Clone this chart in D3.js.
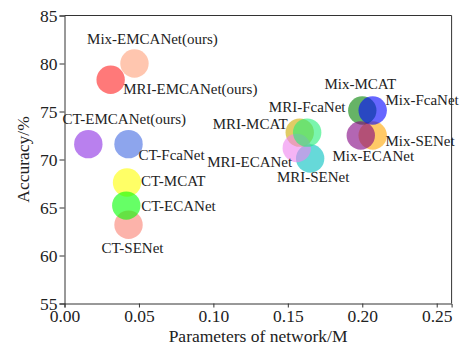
<!DOCTYPE html>
<html>
<head>
<meta charset="utf-8">
<script src="https://cdn.jsdelivr.net/npm/d3@7"></script>
<style>
  html, body { margin: 0; padding: 0; background: #fff; }
  svg { display: block; }
  svg text { font-family: "Liberation Serif", Tinos, "Times New Roman", Times, "DejaVu Serif", serif !important; fill: #222; }
</style>
</head>
<body>
<svg id="chart" width="460" height="346"></svg>
<script>
// ---- data (draw order) ----
const models = [
  "Mix-EMCANet(ours)", "MRI-EMCANet(ours)", "CT-EMCANet(ours)",
  "CT-SENet", "CT-MCAT", "CT-ECANet", "CT-FcaNet",
  "MRI-SENet", "MRI-MCAT", "MRI-ECANet", "MRI-FcaNet",
  "Mix-SENet", "Mix-MCAT", "Mix-ECANet", "Mix-FcaNet"
];
const params = [
  0.047, 0.031, 0.016,
  0.043, 0.042, 0.0415, 0.043,
  0.165, 0.158, 0.156, 0.163,
  0.207, 0.200, 0.199, 0.207
];
const accuracy = [
  80.0, 78.3, 71.6,
  63.2, 67.6, 65.2, 71.6,
  70.1, 72.8, 71.2, 72.8,
  72.5, 75.1, 72.5, 75.1
];
const xTicks = [0, 0.05, 0.10, 0.15, 0.20, 0.25];
const yTicks = [55, 60, 65, 70, 75, 80, 85];
const xTitle = "Parameters of network/M";
const yTitle = "Accuracy/%";

// ---- styles ----
const colors = [
  "#FFA07A", "#FF2020", "#8A2BE2",
  "#FA8072", "#FFFF00", "#00FF00", "#4169E1",
  "#00BFBF", "#CCAA00", "#EE82EE", "#22EE77",
  "#FFA500", "#008000", "#800080", "#0000FF"
];
// label placement relative to bubble centre (px)
const labelLayout = [
  {a: "middle", dx: 18, dy: -20}, {a: "start", dx: 12.6, dy: 14}, {a: "middle", dx: 36, dy: -20},
  {a: "middle", dx: 4, dy: 28}, {a: "start", dx: 14, dy: 3}, {a: "start", dx: 15, dy: 5}, {a: "start", dx: 10, dy: 16},
  {a: "middle", dx: 3, dy: 23}, {a: "end", dx: -12, dy: -4}, {a: "end", dx: -4.6, dy: 19.5}, {a: "middle", dx: 0, dy: -20.5},
  {a: "start", dx: 12.7, dy: 10}, {a: "middle", dx: -2, dy: -22}, {a: "middle", dx: 12.6, dy: 25.7}, {a: "start", dx: 12.7, dy: -5.7}
];

const FONT = '"Liberation Serif", Tinos, "Times New Roman", Times, "DejaVu Serif", serif';
const svg = d3.select("#chart");
const x = d3.scaleLinear().domain([0, 0.26]).range([64.5, 451.6]);
const y = d3.scaleLinear().domain([55, 85]).range([303.5, 15.5]);

const tickFont = "17.5px";

// axes
const gx = svg.append("g").attr("transform", `translate(0,${y(55)})`)
  .call(d3.axisBottom(x).tickValues(xTicks).tickFormat(d3.format(".2f")).tickSizeOuter(0).tickSize(4).tickPadding(2));
const gy = svg.append("g").attr("transform", `translate(${x(0)},0)`)
  .call(d3.axisLeft(y).tickValues(yTicks).tickFormat(d3.format("d")).tickSizeOuter(0).tickSize(5).tickPadding(2));
[gx, gy].forEach(g => {
  g.attr("font-family", FONT);
  g.selectAll("text").style("font-size", tickFont).attr("fill", "#222");
  g.selectAll("line, path").attr("stroke", "#333");
});
// frame top & right
svg.append("line").attr("x1", x(0)).attr("x2", x(0.26)).attr("y1", y(85)).attr("y2", y(85)).attr("stroke", "#333");
svg.append("line").attr("x1", x(0.26)).attr("x2", x(0.26)).attr("y1", y(85)).attr("y2", y(55)).attr("stroke", "#333");

// bubbles
const idx = d3.range(models.length);
svg.append("g").selectAll("circle").data(idx).join("circle")
  .attr("cx", i => x(params[i])).attr("cy", i => y(accuracy[i]))
  .attr("r", 14.2)
  .attr("fill", i => colors[i]).attr("fill-opacity", 0.6);

// labels
svg.append("g").attr("font-family", FONT).selectAll("text").data(idx).join("text")
  .attr("x", i => x(params[i]) + labelLayout[i].dx)
  .attr("y", i => y(accuracy[i]) + labelLayout[i].dy)
  .attr("text-anchor", i => labelLayout[i].a)
  .style("font-size", "15px")
  .text(i => models[i]);

// titles
svg.append("text").attr("x", (x(0) + x(0.26)) / 2).attr("y", 341.5)
  .attr("text-anchor", "middle").style("font-size", "17.5px").text(xTitle);
svg.append("text").attr("transform", `translate(29,${(y(55) + y(85)) / 2}) rotate(-90)`)
  .attr("text-anchor", "middle").style("font-size", "17.5px").text(yTitle);
</script>
</body>
</html>
